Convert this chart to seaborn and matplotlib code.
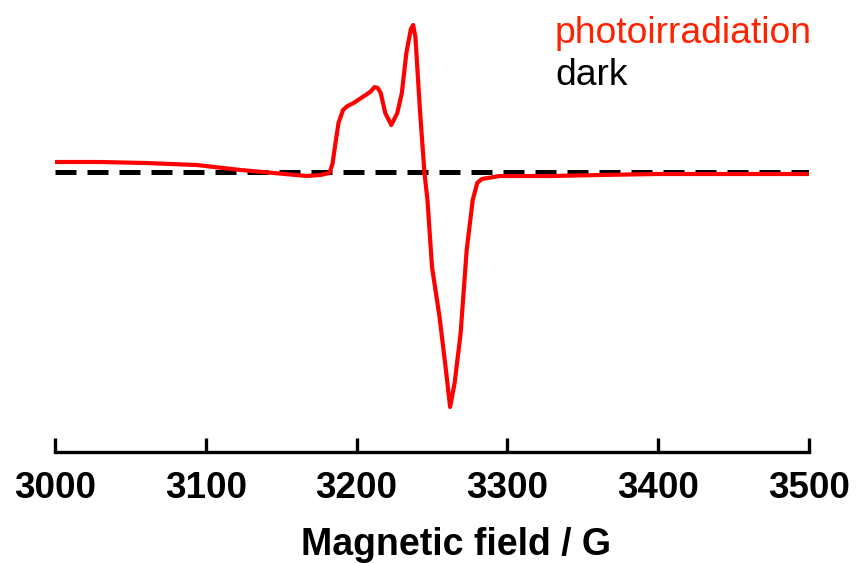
import matplotlib
matplotlib.use("Agg")
import matplotlib.pyplot as plt
import seaborn as sns
import pandas as pd

# --- data ---
photo_field = [3000, 3030, 3060, 3094, 3123, 3145, 3167, 3176, 3182, 3184, 3186, 3188, 3191,
               3194, 3198, 3204, 3209, 3212, 3214, 3216, 3219, 3223, 3227, 3230, 3233, 3236,
               3237.5, 3239, 3242, 3245, 3247, 3250, 3253, 3255, 3259, 3262, 3265, 3269,
               3273, 3277, 3280, 3283, 3287, 3295, 3330, 3361, 3400, 3430, 3460, 3500]
photo_signal = [10, 10, 9, 7, 2, -1, -4, -3, -1, 8, 29, 49, 62,
                66, 69, 75, 80, 85, 84, 79, 59, 47, 59, 79, 119, 143,
                147, 135, 62, -1, -28, -95, -125, -145, -195, -235, -211, -161,
                -78, -28, -11, -7, -6, -4, -4, -3, -2, -2, -2, -2]
dark_field = [3000, 3100, 3200, 3300, 3400, 3500]
dark_signal = [0, 0, 0, 0, 0, 0]
tick_values = [3000, 3100, 3200, 3300, 3400, 3500]
labels = ["photoirradiation", "dark"]
xlabel = "Magnetic field / G"

photo = pd.DataFrame({"field": photo_field, "signal": photo_signal})
dark = pd.DataFrame({"field": dark_field, "signal": dark_signal})

sns.set_theme(style="white")
plt.rcParams["font.family"] = ["Liberation Sans", "DejaVu Sans"]
plt.rcParams["text.color"] = "black"
plt.rcParams["xtick.color"] = "black"
plt.rcParams["axes.labelcolor"] = "black"

fig = plt.figure(figsize=(8.58, 5.63), dpi=100)
ax = fig.add_axes([55 / 858, 111 / 563, 754 / 858, 452 / 563])

sns.lineplot(data=dark, x="field", y="signal", ax=ax, color="black", lw=3.6,
             dashes=False, linestyle=(0, (4.2, 2.2)))
sns.lineplot(data=photo, x="field", y="signal", ax=ax, color="#ff0000", lw=3.0)

ax.set_xlim(3000, 3500)
ax.set_ylim(-280, 172)
ax.set_xticks(tick_values)
ax.set_xticklabels([str(t) for t in tick_values], fontsize=26.5, fontweight="bold")
ax.set_yticks([])
ax.set_xlabel(xlabel, fontsize=27, fontweight="bold", labelpad=12)
ax.xaxis.set_label_coords(0.532, -0.165)
ax.set_ylabel("")
for s in ["top", "left", "right"]:
    ax.spines[s].set_visible(False)
ax.spines["bottom"].set_linewidth(2.4)
ax.spines["bottom"].set_color("black")
ax.tick_params(axis="x", direction="in", length=10, width=2.4, color="black",
               labelcolor="black", pad=14, bottom=True)
ax.spines["bottom"].set_capstyle("projecting")

fig.text(555 / 858, 1 - 43 / 563, labels[0], color="#ff2200", fontsize=26.8, ha="left", va="baseline")
fig.text(555 / 858, 1 - 85 / 563, labels[1], color="black", fontsize=26.8, ha="left", va="baseline")

fig.savefig("out.png", dpi=100)
